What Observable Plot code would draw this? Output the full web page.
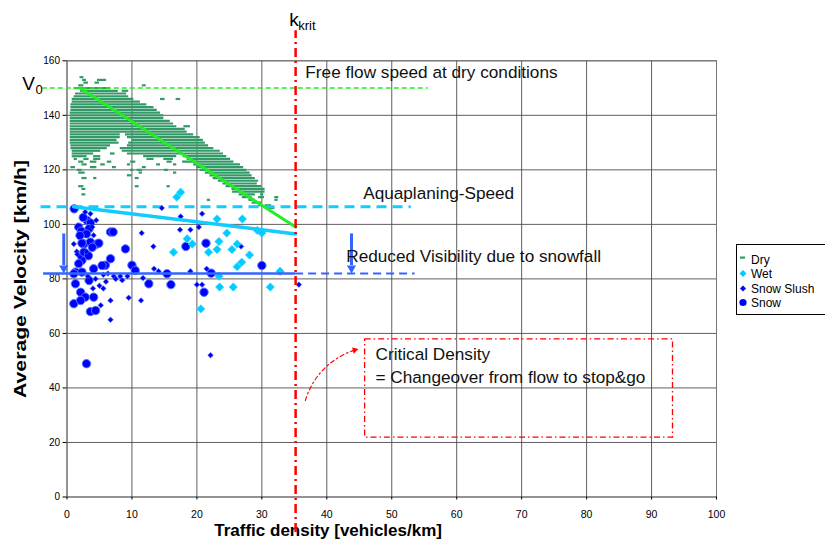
<!DOCTYPE html>
<html><head><meta charset="utf-8">
<script src="https://cdn.jsdelivr.net/npm/d3@7"></script>
<script src="https://cdn.jsdelivr.net/npm/@observablehq/plot@0.6"></script>
<style>
body{margin:0;background:#fff;font-family:"Liberation Sans",Arial,sans-serif;}
#wrap{position:relative;width:825px;height:541px;overflow:hidden;}
#legend{position:absolute;left:736px;top:244px;width:100px;height:71px;border:1px solid #000;background:#fff;font-size:12px;color:#000;box-sizing:border-box;padding-top:8px;}
#legend .li{height:14.3px;line-height:14.3px;position:relative;padding-left:14px;white-space:nowrap;}
#legend svg{position:absolute;left:2px;top:2px;}
</style></head><body><div id="wrap"></div>
<script>
const xTicks = [0,10,20,30,40,50,60,70,80,90,100];
const yTicks = [0,20,40,60,80,100,120,140,160];

// Dry: rows of dashes [velocity, density from, density to]
const dryRows = [
 [154,2.0,2.6],[153,4.7,6.1],[153,2.4,3.0],[152,2.6,3.3],[152,4.3,5.0],[151,1.8,2.6],[151,11.6,12.2],
 [150,1.1,6.7],[149,2.1,7.9],[149,8.5,9.5],[148,1.3,9.2],[147,1.1,9.5],
 [146,0.8,10.3],[146,14.4,15.1],[146,16.8,17.5],[145,0.8,11.3],[144,0.6,12.3],[143,0.6,13.4],
 [142,0.6,13.9],[141,0.5,14.4],[140,0.5,14.9],[139,0.5,14.9],[138,0.5,15.9],[137,0.5,16.4],
 [136,0.5,16.9],[136,18.0,19.0],[135,0.5,18.2],[134,0.5,18.5],[133,0.5,8.2],[133,9.0,19.5],
 [132,0.5,8.2],[132,9.3,20.5],[131,0.5,7.7],[131,10.0,21.0],[130,0.5,8.0],[130,9.5,21.3],
 [129,0.6,6.7],[129,9.3,21.8],[128,0.6,6.2],[128,8.2,22.6],[127,0.8,5.2],[127,8.5,23.6],
 [126,0.8,4.1],[126,6.7,7.4],[126,9.3,24.1],[125,0.8,3.1],[125,4.1,5.2],[125,11.8,16.9],[125,17.9,24.6],
 [124,1.1,1.6],[124,2.6,3.4],[124,4.1,5.2],[124,12.3,13.4],[124,14.9,16.4],[124,18.5,25.2],
 [123,1.8,2.6],[123,3.6,4.6],[123,6.2,6.9],[123,9.8,10.6],[123,15.4,16.2],[123,17.8,25.7],
 [122,2.3,3.1],[122,5.2,5.9],[122,9.3,9.8],[122,13.8,14.4],[122,16.4,16.9],[122,19.5,26.7],
 [121,0.6,1.3],[121,3.6,4.6],[121,7.0,7.6],[121,11.6,12.2],[121,20.0,27.2],
 [120,1.6,2.3],[120,9.8,10.3],[120,10.8,11.6],[120,15.0,15.6],[120,20.5,27.7],
 [119,1.8,2.8],[119,11.1,11.6],[119,16.4,16.9],[119,21.3,28.2],
 [118,9.3,10.0],[118,22.0,28.5],[117,2.3,3.1],[117,4.1,4.6],[117,10.5,11.1],[117,22.5,29.0],
 [116,23.3,29.5],[115,24.0,29.3],[114,1.8,2.6],[114,10.5,11.1],[114,15.4,15.9],[114,24.5,30.0],
 [113,2.3,2.9],[113,25.4,30.5],[112,25.5,30.5],[111,2.3,2.9],[111,26.5,29.0],[111,29.8,30.3],
 [110,27.0,28.5],[110,29.5,30.4],[110,32.0,32.6],[109,21.6,22.1],[109,28.0,29.0],[109,32.0,32.5],
 [108,28.5,30.0],[107,29.5,30.0],[107,30.5,31.5],[106,31.0,32.0]
];
// Wet: [density, velocity]
const wetPoints = [
 [16.9,110],[17.5,111.8],[23.1,102],[27.0,102],[24.6,96.8],[29.3,97.8],[30.0,96.8],[18.5,94.7],
 [19.3,92.8],[16.4,89.8],[23.4,93.7],[23.1,90.8],[21.8,89.8],[25.4,90.8],[26.2,92.8],[28.1,88.8],
 [26.9,86.1],[26.2,84.5],[32.8,82.8],[23.4,81],[23.5,77],[25.6,77],[31.3,77],[20.6,69]
];
// Snow slush: [density, velocity]
const slushPoints = [
 [3.6,103.9],[14.6,106],[20.8,103.9],[17.5,102.9],[11.5,96.8],[13.3,91.9],[17.4,98],[19.0,98],
 [20.3,99],[3.9,99],[4.1,96],[1.05,92.8],[1.5,90],[21.5,83.7],[26.8,91.9],[35.7,77.9],[20.0,77.9],
 [20.8,77.9],[19.0,82.8],[13.4,83.7],[14.1,82.8],[9.5,73.1],[11.4,72.1],[22.1,52],[6.7,65],
 [6.7,72.1],[5.2,70.3],[5.6,81.5],[6.3,82],[7.2,81],[8.2,81],[9.3,81],[3.2,81],[4.4,80],
 [5.0,77.5],[5.6,76.5],[4.0,76.5],[1.6,89],[2.0,88],[7.5,80],[8.5,79.5],[11.7,80.3],[4.5,101.5],
 [2.8,104.5],[6.0,79],[3.0,90]
];
// Snow: [density, velocity]
const snowPoints = [
 [1.1,105.7],[3.1,101.4],[2.5,102.5],[3.6,100.5],[1.8,99],[3.4,98.4],[2.2,97.5],[3.0,96.5],
 [6.7,97.2],[7.1,97.2],[2.0,95.9],[2.6,92.8],[3.6,93.5],[4.6,92.8],[2.3,93.1],[4.9,93.1],[3.9,91.6],
 [9.0,91],[2.6,89.8],[3.3,88.5],[2.3,86.8],[1.8,85.6],[6.7,87.4],[5.9,85],[5.4,84.9],[4.1,83.7],
 [1.3,82.5],[2.3,82.5],[1.05,81.9],[10.0,85],[10.5,83.1],[12.6,78.2],[1.3,78.2],[3.4,79.4],
 [2.1,75.1],[2.8,73.3],[4.1,73.3],[1.05,70.9],[2.1,72.1],[3.6,68.0],[4.4,68.4],[3.0,48.9],
 [16.0,77.9],[15.4,81.9],[18.3,91.9],[21.4,93.1],[21.1,75.1],[22.2,82.1],[30.0,84.9]
];
const kKrit = 35.2;
const v0 = 150, vAqua = 106.5, vVis = 82;
const dryFit = [[2.0,150],[35.2,99]];
const wetFit = [[1.0,106.5],[35.2,96.5]];
// [x, shaft top, shaft bottom, arrow-head centre]
const visArrows = [[-0.5,96.5,84.9,83.9],[43.8,96.5,84.9,83.9]];
const critArrow = [[36.7,35.4,44.3,53.9]];
const critBox = [[45.9,93.3,57.8,21.8]];
const notes = [
 {x:36.7, y:155.6, t:"Free flow speed at dry conditions"},
 {x:45.6, y:111.3, t:"Aquaplaning-Speed"},
 {x:43.0, y:88.2,  t:"Reduced Visibility due to snowfall"},
 {x:47.5, y:52.3,  t:"Critical Density"},
 {x:47.5, y:43.8,  t:"= Changeover from flow to stop&go"}
];
const yTitle = "Average Velocity [km/h]";
const xTitle = "Traffic density [vehicles/km]";

const red = "#ff0000", cyan = "#11ccff", blue = "#3366ff", green = "#22ee22", dryC = "#339966";

const chart = Plot.plot({
  width: 825, height: 541,
  marginLeft: 66.5, marginRight: 109, marginTop: 60.3, marginBottom: 44.5,
  x: {domain: [0,100]},
  y: {domain: [0,160]},
  style: {fontFamily: '"Liberation Sans", Arial, sans-serif', background: "#fff", overflow: "visible"},
  marks: [
    Plot.gridX(xTicks, {stroke: "#444", strokeOpacity: 0.85}),
    Plot.gridY(yTicks, {stroke: "#444", strokeOpacity: 0.85}),
    Plot.frame({stroke: "#777"}),
    Plot.axisY(yTicks, {tickSize: 4, fontSize: 10, tickPadding: 3, label: null}),
    Plot.axisX(xTicks, {tickSize: 3, fontSize: 10.5, tickPadding: 11, label: null}),
    Plot.text([yTitle], {frameAnchor: "left", textAnchor: "middle", dx: -46.5, rotate: -90, fontSize: 17, fontWeight: "bold"}),
    Plot.text([xTitle], {x: () => 40.2, frameAnchor: "bottom", lineAnchor: "middle", dy: 33.5, fontSize: 17, fontWeight: "bold"}),
    // dry cloud
    Plot.ruleY(dryRows, {y: d => d[0], x1: d => d[1], x2: d => d[2], stroke: dryC, strokeWidth: 2.2}),
    // reference dashed lines
    Plot.ruleY([v0], {x1: -3.8, x2: 55.6, stroke: green, strokeWidth: 1.5, strokeDasharray: "5,3"}),
    Plot.ruleY([vAqua], {x1: -4, x2: 53, stroke: cyan, strokeWidth: 3, strokeDasharray: "10,6"}),
    Plot.ruleY([vVis], {x1: kKrit, x2: 53.6, stroke: blue, strokeWidth: 2, strokeDasharray: "8,5"}),
    // points
    Plot.dot(snowPoints, {x: d => d[0], y: d => d[1], r: 4.2, fill: "#0000ff", stroke: "#5577ff", strokeWidth: 1}),
    Plot.dot(slushPoints, {x: d => d[0], y: d => d[1], r: 2.5, symbol: "diamond2", fill: "#0000ee", stroke: "#4466ff", strokeWidth: 0.6}),
    Plot.dot(wetPoints, {x: d => d[0], y: d => d[1], r: 3.8, symbol: "diamond2", fill: "#00ccff", stroke: "#33ddff", strokeWidth: 0.6}),
    // trend lines
    Plot.ruleY([vVis], {x1: -3.6, x2: kKrit, stroke: blue, strokeWidth: 2.5}),
    Plot.line(wetFit, {x: d => d[0], y: d => d[1], stroke: cyan, strokeWidth: 3.5}),
    Plot.line(dryFit, {x: d => d[0], y: d => d[1], stroke: green, strokeWidth: 3}),
    Plot.ruleX(visArrows, {x: d => d[0], y1: d => d[1], y2: d => d[2], stroke: blue, strokeWidth: 3}),
    Plot.dot(visArrows, {x: d => d[0], y: d => d[3], symbol: "triangle", rotate: 180, r: 3.4, fill: blue}),
    // critical density
    Plot.ruleX([kKrit], {y1: -13, y2: 171, stroke: red, strokeWidth: 2.5, strokeDasharray: "9,4,2,4"}),
    Plot.rect(critBox, {x1: d => d[0], x2: d => d[1], y1: d => d[2], y2: d => d[3], fill: "none", stroke: red, strokeWidth: 1.3, strokeDasharray: "6,3,1.5,3"}),
    Plot.arrow(critArrow, {x1: d => d[0], y1: d => d[1], x2: d => d[2], y2: d => d[3], bend: 28, stroke: red, strokeWidth: 1.2, strokeDasharray: "4,3,1.5,3", headLength: 0}),
    Plot.dot(critArrow, {x: d => d[2], y: d => d[3], symbol: "triangle", rotate: 75, r: 2.4, fill: red}),
    // labels
    Plot.text(notes, {x: "x", y: "y", text: "t", textAnchor: "start", fontSize: 17.2, fill: "#111"}),
    Plot.text(["k"], {x: () => 34.2, y: () => 174.9, textAnchor: "start", fontSize: 19, fill: "#000"}),
    Plot.text(["krit"], {x: () => 35.6, y: () => 172.9, textAnchor: "start", fontSize: 13, fill: "#000"}),
    Plot.text(["V"], {x: () => -6.9, y: () => 151.6, textAnchor: "start", fontSize: 19, fill: "#000"}),
    Plot.text(["0"], {x: () => -4.85, y: () => 149.2, textAnchor: "start", fontSize: 13, fill: "#000"})
  ]
});
const wrap = document.getElementById("wrap");
wrap.appendChild(chart);
// stretch the y title to the reference's length
chart.querySelectorAll("text").forEach(t => {
  if (t.textContent === yTitle) { t.setAttribute("textLength", 238); t.setAttribute("lengthAdjust", "spacingAndGlyphs"); }
});

// legend
const legendItems = [
  {name: "Dry", sym: '<rect x="1" y="1.5" width="5" height="2.2" fill="' + dryC + '"/>'},
  {name: "Wet", sym: '<path d="M4,1 L7.5,4.5 L4,8 L0.5,4.5Z" fill="#00ccff"/>'},
  {name: "Snow Slush", sym: '<path d="M4,1.5 L7,4.5 L4,7.5 L1,4.5Z" fill="#0000ee"/>'},
  {name: "Snow", sym: '<circle cx="4" cy="4.5" r="3.6" fill="#0000ff"/>'}
];
const lg = document.createElement("div");
lg.id = "legend";
lg.innerHTML = legendItems.map(d => '<div class="li"><svg width="9" height="10">' + d.sym + '</svg>' + d.name + '</div>').join("");
wrap.appendChild(lg);
</script>
</body></html>
